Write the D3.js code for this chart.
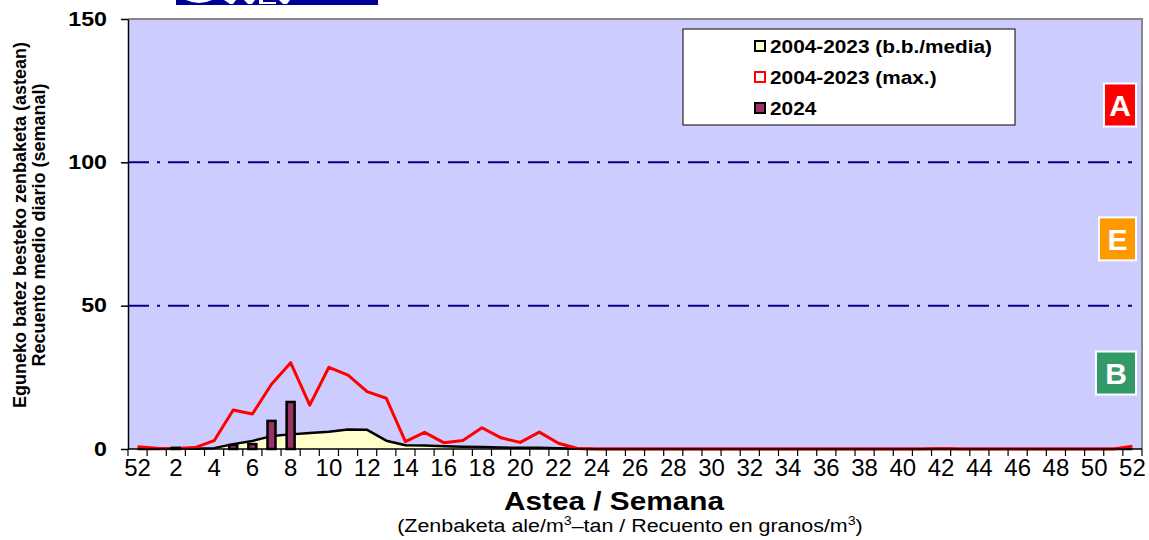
<!DOCTYPE html>
<html>
<head>
<meta charset="utf-8">
<script src="https://cdn.jsdelivr.net/npm/d3@7"></script>
<style>
    body { margin: 0; background: #ffffff; }
    svg { display: block; font-family: "Liberation Sans", Arial, sans-serif; }
</style>
</head>
<body>
<script>
// week labels: previous year's week 52, then weeks 1..52
var weeks = [52, 1, 2, 3, 4, 5, 6, 7, 8, 9, 10, 11, 12, 13, 14, 15, 16, 17, 18, 19, 20,
             21, 22, 23, 24, 25, 26, 27, 28, 29, 30, 31, 32, 33, 34, 35, 36, 37, 38, 39, 40,
             41, 42, 43, 44, 45, 46, 47, 48, 49, 50, 51, 52];

// 2004-2023 mean (b.b./media)
var meanValues = [0, 0, 0.1, 0.1, 0.3, 1.7, 2.8, 4.5, 5.1, 5.6, 6.0, 6.8, 6.7, 2.9, 1.3, 1.2, 1.0, 0.8, 0.7, 0.5, 0.4,
                  0.4, 0.3, 0.1, 0, 0, 0, 0, 0, 0, 0, 0, 0, 0, 0, 0, 0, 0, 0, 0, 0,
                  0, 0.1, 0, 0, 0, 0, 0, 0, 0, 0, 0, 0];

// 2004-2023 max
var maxValues = [0.8, 0.3, 0.2, 0.5, 2.9, 13.6, 12.2, 22.6, 30.1, 15.3, 28.5, 25.8, 20.0, 17.7, 2.6, 5.8, 2.2, 3.0, 7.4, 3.9, 2.3,
                 5.9, 2.0, 0.2, 0, 0, 0, 0, 0, 0, 0, 0, 0, 0, 0, 0, 0, 0, 0, 0, 0,
                 0, 0.2, 0, 0, 0, 0, 0, 0, 0, 0, 0, 1.0];

// 2024 (only first weeks available)
var values2024 = [null, 0, 0.4, 0, 0, 1.4, 1.7, 9.8, 16.4];

var yTicks = [0, 50, 100, 150];
var levelLines = [50, 100];
var levels = [
    {label: "A", value: 120,  fill: "#FF0000"},
    {label: "E", value: 73.3, fill: "#FF9900"},
    {label: "B", value: 26.5, fill: "#339966"}
];
var legendItems = [
    {label: "2004-2023 (b.b./media)", fill: "#FFFFCC", stroke: "#000000"},
    {label: "2004-2023 (max.)",       fill: "#FFFFFF", stroke: "#FF0000"},
    {label: "2024",                   fill: "#993366", stroke: "#000000"}
];

var width  = 1149;
var height = 540;
var plot   = {left: 128, right: 1142, top: 19, bottom: 449};
var sx     = 1.19; // the original picture is stretched sideways

var svg = d3.select("body")
    .append("svg")
    .attr("width", width)
    .attr("height", height);

// cropped logo at the very top (only the bottom edge is visible)
svg.append("rect")
    .attr("x", 176).attr("y", 0)
    .attr("width", 202).attr("height", 5)
    .attr("fill", "#000099");
svg.append("path")
    .attr("d", "M186,0 Q199,6 212,0 Z M224,0 L230,4 L233,4 L236,0 Z M244,0 L248,4 L252,4 L255,0 Z " +
               "M259,0 V4 H276 V2 H263 V0 Z M279,0 L283,4 L287,4 L290,0 Z")
    .attr("fill", "#ffffff");

var x = d3.scaleBand()
    .domain(d3.range(weeks.length))
    .range([plot.left, plot.right]);

var y = d3.scaleLinear()
    .domain([0, 150])
    .range([plot.bottom, plot.top]);

function cx(i) { return x(i) + x.bandwidth() / 2; }

function wideText(parent, px, py) {
    return parent.append("g")
        .attr("transform", "translate(" + px + "," + py + ") scale(" + sx + ",1)")
        .append("text");
}

// plot background
svg.append("rect")
    .attr("x", plot.left).attr("y", plot.top)
    .attr("width", plot.right - plot.left)
    .attr("height", plot.bottom - plot.top)
    .attr("fill", "#CCCCFF");

// top & right frame
svg.append("path")
    .attr("d", "M" + plot.left + "," + plot.top + "H" + plot.right + "V" + plot.bottom)
    .attr("fill", "none")
    .attr("stroke", "#888888")
    .attr("stroke-width", 2);

// level lines (dash-dot)
svg.append("g")
    .selectAll("line")
    .data(levelLines)
    .enter()
    .append("line")
    .attr("x1", plot.left).attr("x2", plot.right - 10)
    .attr("y1", function (d) { return y(d); })
    .attr("y2", function (d) { return y(d); })
    .attr("stroke", "#000080")
    .attr("stroke-width", 2)
    .attr("stroke-dasharray", "21,8,3,8");

// mean area
var area = d3.area()
    .x(function (d, i) { return cx(i); })
    .y0(y(0))
    .y1(function (d) { return y(d); });
var valueLine = d3.line()
    .x(function (d, i) { return cx(i); })
    .y(function (d) { return y(d); });

svg.append("path")
    .datum(meanValues)
    .attr("d", area)
    .attr("fill", "#FFFFCC");
svg.append("path")
    .datum(meanValues)
    .attr("d", valueLine)
    .attr("fill", "none")
    .attr("stroke", "#000000")
    .attr("stroke-width", 2.5)
    .attr("stroke-linejoin", "round");

// max line
svg.append("path")
    .datum(maxValues)
    .attr("d", valueLine)
    .attr("fill", "none")
    .attr("stroke", "#FF0000")
    .attr("stroke-width", 3)
    .attr("stroke-linejoin", "round");

// 2024 bars
var barW = 8;
svg.append("g")
    .selectAll("rect")
    .data(values2024.map(function (v, i) { return {i: i, v: v}; })
        .filter(function (d) { return d.v > 0; }))
    .enter()
    .append("rect")
    .attr("x", function (d) { return cx(d.i) - barW / 2; })
    .attr("y", function (d) { return y(d.v); })
    .attr("width", barW)
    .attr("height", function (d) { return y(0) - y(d.v); })
    .attr("fill", "#993366")
    .attr("stroke", "#000000")
    .attr("stroke-width", 2.5);

// y axis
var yAxis = svg.append("g")
    .attr("transform", "translate(" + plot.left + ",0)")
    .call(d3.axisLeft(y).tickValues(yTicks).tickSize(7).tickPadding(14).tickSizeOuter(0));
yAxis.select(".domain").attr("stroke", "#000000").attr("stroke-width", 1.5);
yAxis.selectAll(".tick line").attr("stroke", "#000000").attr("stroke-width", 1.5);
yAxis.selectAll(".tick text")
    .attr("x", -21 / sx)
    .attr("transform", "scale(" + sx + ",1)")
    .attr("font-family", "'Liberation Sans', Arial, sans-serif")
    .attr("font-size", 19.5)
    .attr("font-weight", "bold")
    .attr("fill", "#000000");

// x axis: ticks at band boundaries, labels every second week
var xAxis = svg.append("g").attr("class", "x-axis");
xAxis.append("line")
    .attr("x1", plot.left).attr("x2", plot.right)
    .attr("y1", plot.bottom).attr("y2", plot.bottom)
    .attr("stroke", "#000000")
    .attr("stroke-width", 1.5);
xAxis.selectAll(".xtick")
    .data(d3.range(weeks.length + 1))
    .enter()
    .append("line")
    .attr("class", "xtick")
    .attr("x1", function (i) { return plot.left + i * x.step(); })
    .attr("x2", function (i) { return plot.left + i * x.step(); })
    .attr("y1", plot.bottom)
    .attr("y2", plot.bottom + 7)
    .attr("stroke", "#000000")
    .attr("stroke-width", 1.2);
xAxis.selectAll(".xlabel")
    .data(weeks.map(function (w, i) { return {w: w, i: i}; })
        .filter(function (d) { return d.i % 2 === 0; }))
    .enter()
    .append("text")
    .attr("class", "xlabel")
    .attr("x", function (d) { return cx(d.i); })
    .attr("y", plot.bottom + 27)
    .attr("text-anchor", "middle")
    .attr("font-family", "'Liberation Sans Narrow', 'Arial Narrow', 'Liberation Sans', sans-serif")
    .attr("font-size", 24)
    .text(function (d) { return d.w; });

// axis titles
wideText(svg, 614, 510)
    .attr("text-anchor", "middle")
    .attr("font-size", 25)
    .attr("font-weight", "bold")
    .text("Astea / Semana");

var sub = wideText(svg, 630, 532)
    .attr("text-anchor", "middle")
    .attr("font-size", 18);
sub.append("tspan").text("(Zenbaketa ale/m");
sub.append("tspan").attr("dy", -7).attr("font-size", 12).text("3");
sub.append("tspan").attr("dy", 7).text("\u2013tan / Recuento en granos/m");
sub.append("tspan").attr("dy", -7).attr("font-size", 12).text("3");
sub.append("tspan").attr("dy", 7).text(")");

var yTitle = svg.append("text")
    .attr("transform", "translate(0,225) rotate(-90)")
    .attr("text-anchor", "middle")
    .attr("font-size", 18)
    .attr("font-weight", "bold");
yTitle.append("tspan").attr("x", 0).attr("y", 26).text("Eguneko batez besteko zenbaketa (astean)");
yTitle.append("tspan").attr("x", 0).attr("y", 45).text("Recuento medio diario (semanal)");

// legend
var legend = svg.append("g");
legend.append("rect")
    .attr("x", 683).attr("y", 29)
    .attr("width", 332).attr("height", 96)
    .attr("fill", "#ffffff")
    .attr("stroke", "#000000")
    .attr("stroke-width", 1);
var li = legend.selectAll(".item")
    .data(legendItems)
    .enter()
    .append("g")
    .attr("class", "item")
    .attr("transform", function (d, i) { return "translate(755," + (46 + i * 31) + ")"; });
li.append("rect")
    .attr("x", 0).attr("y", -5)
    .attr("width", 10).attr("height", 10)
    .attr("fill", function (d) { return d.fill; })
    .attr("stroke", function (d) { return d.stroke; })
    .attr("stroke-width", 2);
li.append("text")
    .attr("transform", "translate(15,6.5) scale(" + sx + ",1)")
    .attr("font-size", 17.5)
    .attr("font-weight", "bold")
    .text(function (d) { return d.label; });

// level boxes
var boxW = {A: 32, E: 37, B: 40};
var boxes = svg.append("g")
    .selectAll("g")
    .data(levels)
    .enter()
    .append("g")
    .attr("transform", function (d) { return "translate(" + (1136 - boxW[d.label] / 2) + "," + y(d.value) + ")"; });
boxes.append("rect")
    .attr("x", function (d) { return -boxW[d.label] / 2; })
    .attr("y", -21.5)
    .attr("width", function (d) { return boxW[d.label]; })
    .attr("height", 43)
    .attr("fill", function (d) { return d.fill; })
    .attr("stroke", "#ffffff")
    .attr("stroke-width", 2);
boxes.append("text")
    .attr("y", 11)
    .attr("text-anchor", "middle")
    .attr("fill", "#ffffff")
    .attr("font-size", 30)
    .attr("font-weight", "bold")
    .text(function (d) { return d.label; });
</script>
</body>
</html>
